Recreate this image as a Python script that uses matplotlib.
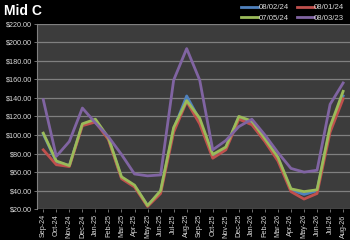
import numpy as np
import matplotlib
matplotlib.use("Agg")
import matplotlib.pyplot as plt
from matplotlib.ticker import FuncFormatter

months = ["Sep-24", "Oct-24", "Nov-24", "Dec-24", "Jan-25", "Feb-25", "Mar-25", "Apr-25",
          "May-25", "Jun-25", "Jul-25", "Aug-25", "Sep-25", "Oct-25", "Nov-25", "Dec-25",
          "Jan-26", "Feb-26", "Mar-26", "Apr-26", "May-26", "Jun-26", "Jul-26", "Aug-26"]

s_080224 = [101, 71, 67, 111, 116, 96, 54, 45, 24, 39, 106, 142, 116, 77, 86, 119,
            113, 95, 75, 41, 36, 40, 107, 142]
s_080124 = [84, 68, 66, 110, 114, 95, 53, 44, 23, 37, 103, 136, 112, 75, 84, 117,
            111, 93, 72, 39, 31, 37, 103, 139]
s_070524 = [102, 72, 67, 112, 117, 97, 55, 46, 24, 40, 108, 137, 118, 79, 87, 120,
            115, 96, 76, 42, 39, 41, 109, 147]
s_080323 = [138, 77, 93, 129, 113, 98, 79, 58, 56, 57, 159, 193, 159, 84, 94, 109,
            117, 100, 81, 64, 60, 62, 133, 156]

series = [("08/02/24", s_080224, "#4f81bd"),
          ("08/01/24", s_080124, "#c0504d"),
          ("07/05/24", s_070524, "#9bbb59"),
          ("08/03/23", s_080323, "#8064a2")]

plt.rcParams["font.family"] = ["Liberation Sans", "DejaVu Sans"]

fig = plt.figure(figsize=(3.5, 2.4), dpi=100, facecolor="black")
ax = fig.add_axes([0.105, 0.128, 0.894, 0.774])
ax.set_facecolor("#3c3c3c")

x = np.arange(len(months))
lines = {}
for name, vals, col in series:
    lines[name], = ax.plot(x, vals, color=col, lw=2.0, label=name)

ax.set_xlim(-0.5, len(months) - 0.5)
ax.set_ylim(20, 220)
ax.set_yticks(np.arange(20, 221, 20))
ax.yaxis.set_major_formatter(FuncFormatter(lambda v, p: "${:.2f}".format(v)))
ax.set_xticks(x)
ax.set_xticklabels(months, rotation=90)
ax.grid(axis="y", color="#808080", lw=0.9)
ax.set_axisbelow(True)

for side in ["top", "right", "bottom"]:
    ax.spines[side].set_visible(False)
ax.spines["left"].set_color("#808080")
ax.tick_params(colors="#808080", labelcolor="#d9d9d9", labelsize=5.2, length=2, width=0.6, pad=1.5)

fig.text(0.01, 0.955, "Mid C", color="white", fontsize=10, fontweight="bold", va="center", ha="left")

# legend fills column-wise, so reorder to get the two rows of the reference
order = ["08/02/24", "07/05/24", "08/01/24", "08/03/23"]
fig.legend([lines[k] for k in order], order, loc="upper right", bbox_to_anchor=(0.995, 1.0),
           ncol=2, frameon=False, fontsize=5.6, labelcolor="#d9d9d9", handlelength=2.2,
           handletextpad=0.05, columnspacing=1.0, borderaxespad=0.1, labelspacing=0.35)

fig.savefig("out.png", dpi=100, facecolor="black")
